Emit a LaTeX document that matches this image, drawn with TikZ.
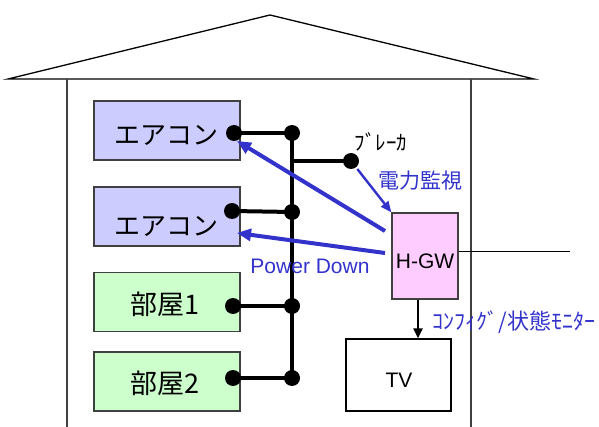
\documentclass[tikz,border=0pt]{standalone}
\usepackage{fontspec}
\setmainfont{Liberation Sans}
\newfontfamily\jp{Noto Sans CJK JP}
\usetikzlibrary{arrows.meta,calc}
\definecolor{acfill}{RGB}{204,204,255}
\definecolor{roomfill}{RGB}{204,255,204}
\definecolor{gwfill}{RGB}{255,204,255}
\definecolor{sigblue}{RGB}{51,51,204}
\definecolor{edgegray}{RGB}{64,64,64}
\begin{document}
\begin{tikzpicture}[x=1pt,y=-1pt,
  house/.style={draw=black,line width=1.3pt},
  wall/.style={draw=edgegray,line width=1.3pt},
  unit/.style={draw=edgegray,line width=1.2pt,minimum width=146pt,minimum height=59pt,inner sep=0pt},
  jtext/.style={font=\jp\fontsize{26}{30}\selectfont,inner sep=0pt},
  roomtext/.style={font=\jp\fontsize{27}{30}\selectfont,inner sep=0pt},
  dot/.style={circle,fill=black,inner sep=0pt,minimum size=16pt},
  bus/.style={line width=4pt},
  sig/.style={draw=sigblue,line width=4pt,-{Triangle[length=14pt,width=12pt]}},
  sigthin/.style={draw=sigblue,line width=2.4pt,-{Triangle[length=11pt,width=9pt]}},
  downarrow/.style={line width=2pt,-{Triangle[length=10pt,width=9pt]}},
  bluelabel/.style={text=sigblue,inner sep=0pt}]
\useasboundingbox (0,0) rectangle (599,427);
% house
\coordinate (roofL) at (8,79);
\coordinate (apex) at (270,15);
\coordinate (roofR) at (534,79);
\coordinate (wallLt) at (67,79);
\coordinate (wallLb) at (67,430);
\coordinate (wallRt) at (471,79);
\coordinate (wallRb) at (471,430);
\draw[house] (roofL) -- (apex) -- (roofR) -- cycle;
\draw[wall] (wallLt) -- (wallLb);
\draw[wall] (wallRt) -- (wallRb);
% units
\node[unit,fill=acfill] (ac1) at (167,130.5) {};
\node[unit,fill=acfill] (ac2) at (167,216.5) {};
\node[unit,fill=roomfill] (r1) at (167,302) {};
\node[unit,fill=roomfill] (r2) at (167,381.5) {};
\node[jtext] (ac1t) at (166,135) {エアコン};
\node[jtext] (ac2t) at (166,226) {エアコン};
\node[roomtext] (r1t) at (165,304) {部屋1};
\node[roomtext] (r2t) at (165,383) {部屋2};
% TV and H-GW
\node[draw=black,line width=1.2pt,minimum width=105pt,minimum height=72pt,inner sep=0pt] (tvbox) at (398.5,375) {};
\node[font=\fontsize{21}{24}\selectfont,inner sep=0pt] (tvt) at (399,380) {TV};
\node[draw=edgegray,fill=gwfill,line width=1.2pt,minimum width=66pt,minimum height=86pt,inner sep=0pt] (hgw) at (425,256) {};
\node[font=\fontsize{21}{24}\selectfont,inner sep=0pt] (hgwt) at (425,261) {H-GW};
\coordinate (ext) at (570,252);
\draw[line width=1pt] (hgw.east |- ext) -- (ext);
% dots and bus
\node[dot] (d1) at (234,133) {};
\node[dot] (d2) at (232,211) {};
\node[dot] (d3) at (233,306) {};
\node[dot] (d4) at (233,378) {};
\node[dot] (b1) at (292,133) {};
\node[dot] (b2) at (292,212) {};
\node[dot] (b3) at (292,306) {};
\node[dot] (b4) at (292,378) {};
\coordinate (j) at (292,161);
\node[dot] (brk) at (351,161) {};
\draw[bus] (b1.center) -- (b4.center);
\draw[bus] (d1.center) -- (b1.center);
\draw[bus] (d2.center) -- (b2.center);
\draw[bus] (d3.center) -- (b3.center);
\draw[bus] (d4.center) -- (b4.center);
\draw[bus] (j) -- (brk.center);
% labels
\node[font=\jp\fontsize{21}{24}\selectfont,inner sep=0pt] (brkt) at (381,142) {ﾌﾞﾚｰｶ};
\node[bluelabel,font=\jp\fontsize{21}{24}\selectfont] (pw) at (420,181) {電力監視};
\node[bluelabel,font=\fontsize{21}{24}\selectfont] (pd) at (310,266) {Power Down};
\node[bluelabel,font=\jp\fontsize{22}{24}\selectfont] (cfg) at (514,322) {ｺﾝﾌｨｸﾞ/状態ﾓﾆﾀｰ};
% arrows
\coordinate (s1) at (385,231);
\coordinate (t1) at (237,141);
\coordinate (s2) at (385,253);
\coordinate (t2) at (237,233);
\draw[sig] (s1) -- (t1);
\draw[sig] (s2) -- (t2);
\draw[sigthin,shorten <=2pt] (brk) -- (hgw.north west);
\coordinate (gwdown) at ($(hgw.south)+(-7,0)$);
\draw[downarrow] (gwdown) -- (gwdown |- tvbox.north);
\end{tikzpicture}
\end{document}
